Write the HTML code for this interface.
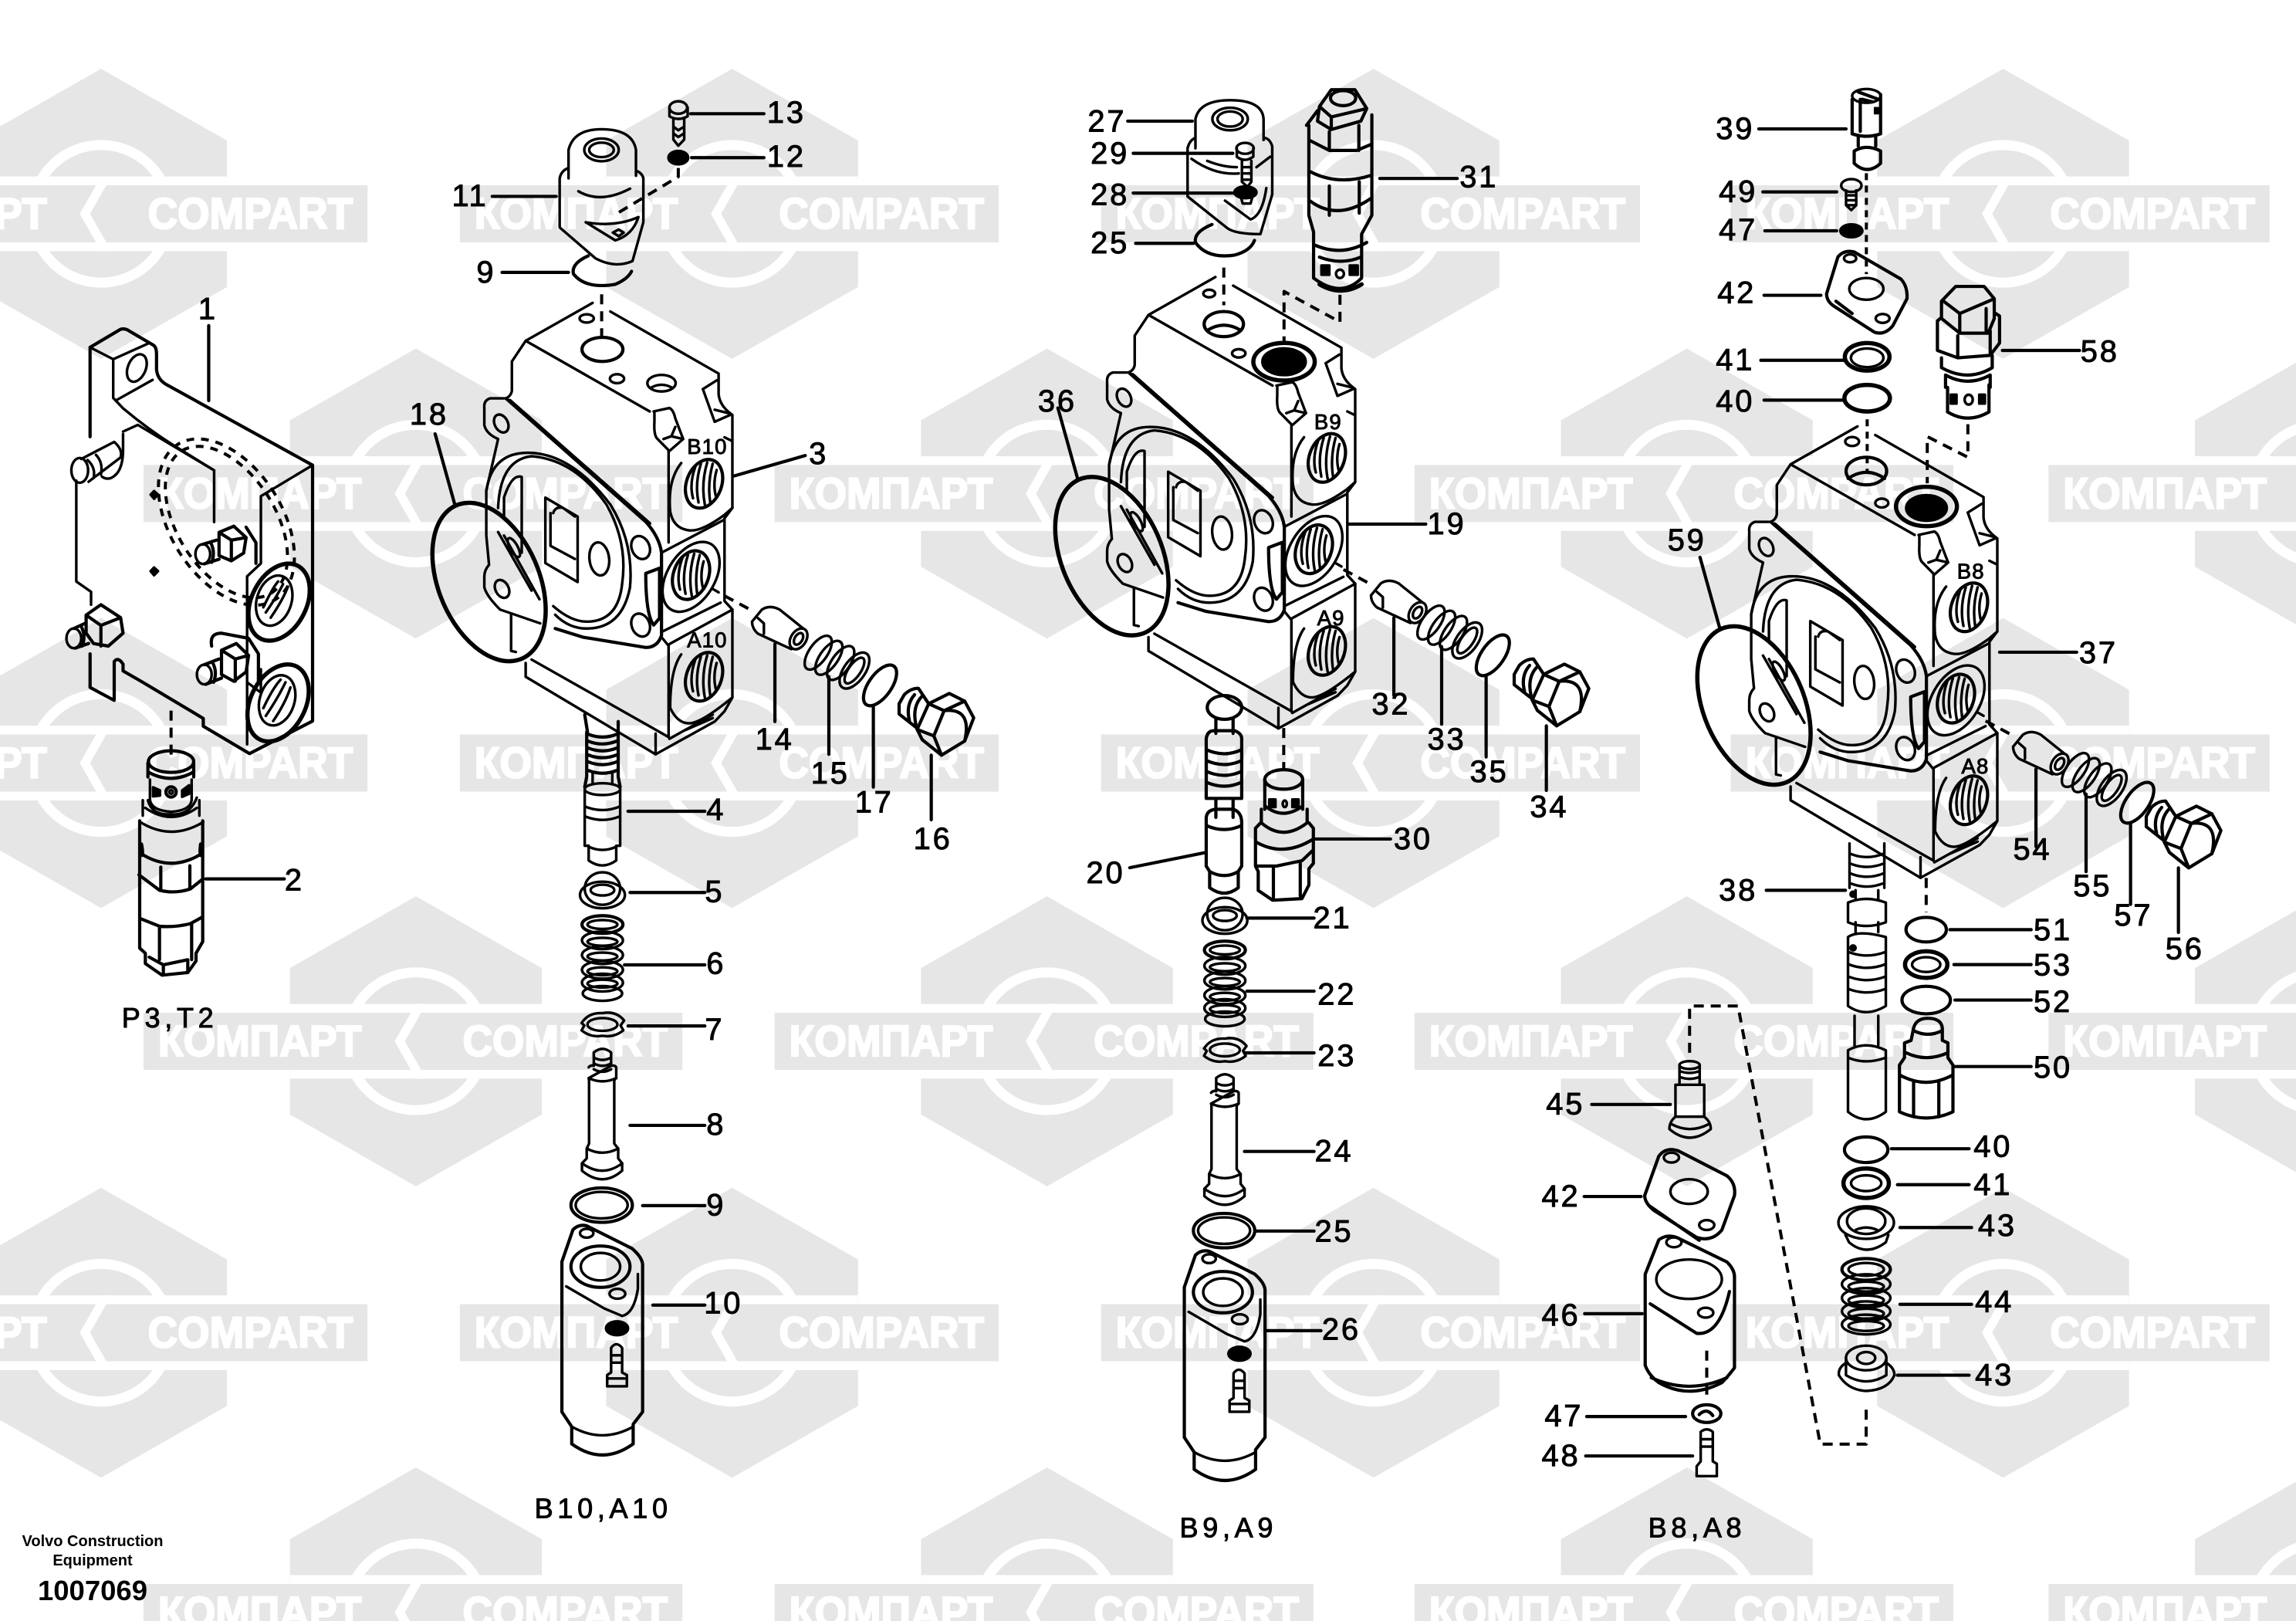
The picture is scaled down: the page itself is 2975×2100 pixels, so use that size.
<!DOCTYPE html>
<html><head><meta charset="utf-8"><title>Valve section exploded view</title>
<style>
html,body{margin:0;padding:0;background:#fff;width:2975px;height:2100px;overflow:hidden}
svg{display:block}
path,ellipse,circle,line{vector-effect:non-scaling-stroke}
.d{fill:none;stroke:#000;stroke-width:3.4;stroke-linejoin:round;stroke-linecap:round}
.t{stroke-width:5.5}
.b{stroke-width:4.2}
.das{stroke-dasharray:13 9;stroke-width:4;stroke-linecap:butt}
.k{fill:#000}
.lab text{font-family:"Liberation Sans",sans-serif;font-size:21px;letter-spacing:1.5px;text-anchor:middle;dominant-baseline:central;fill:#000;stroke:#000;stroke-width:.5}
.lab text.s{font-size:14.5px;letter-spacing:.6px}
.lab text.c{font-size:19px;letter-spacing:3px}
.wt{font-family:"Liberation Sans",sans-serif;font-weight:bold;font-size:30px;fill:#fff;stroke:#fff;stroke-width:1.2;dominant-baseline:central}
.v{font-family:"Liberation Sans",sans-serif;font-weight:bold;fill:#000;text-anchor:middle}
</style></head><body>
<svg xmlns="http://www.w3.org/2000/svg" width="2975" height="2100" viewBox="0 0 2975 2100">
<defs>
<g id="w">
<polygon points="0,-99 86,-50 86,50 0,99 -86,50 -86,-50" fill="#e6e6e6"/>
<circle r="47" fill="none" stroke="#fff" stroke-width="13"/>
<rect x="-86" y="-25.5" width="172" height="51" fill="#fff"/>
<rect x="-186" y="-19.5" width="368" height="39" fill="#e6e6e6"/>
<polygon points="0,-25.5 -14.5,0 0,25.5 7,25.5 -7.5,0 7,-25.5" fill="#fff"/>
<text class="wt" x="-176" textLength="139" lengthAdjust="spacingAndGlyphs">КОМПАРТ</text>
<text class="wt" x="32" textLength="140" lengthAdjust="spacingAndGlyphs">COMPART</text>
</g>
<g id="th">
<ellipse rx="45" ry="72" transform="rotate(15)" class="b"/>
<path d="M-22,-50Q-38,0 -28,42M-8,-58Q-24,0 -14,54M8,-62Q-8,0 2,60M22,-58Q8,0 16,56M32,-40Q22,0 30,36"/>
</g>
<g id="body">
<path d="M525,95L355,205L320,265V350Q318,365 305,372"/>
<path d="M570,120L845,300V360Q848,395 880,420V690L860,720V960L880,985V1240L860,1280L835,1310L685,1405L355,1180V1140"/>
<path d="M355,205L670,410M680,410L720,400Q730,405 735,430L755,490L720,525L690,490Q680,480 682,440V410"/>
<path d="M718,525V790M718,1090V1355"/>
<path d="M805,345L840,320M805,345L835,440L875,420M835,405L870,415M705,490L725,482L755,490M725,482L735,455M860,485L878,495"/>
<use href="#th" transform="translate(808,620)"/>
<path d="M750,560Q715,610 722,700Q730,750 770,755Q800,760 860,710L880,690"/>
<path d="M700,820L858,725M700,1050L850,965M700,820V1060"/>
<use href="#th" transform="translate(775,885)"/>
<ellipse cx="775" cy="890" rx="62" ry="108" transform="rotate(25 775 890)"/>
<path d="M830,925L845,935"/>
<path d="M700,1065L718,1090M720,1085L880,985"/>
<use href="#th" transform="translate(808,1180)"/>
<path d="M750,1115Q722,1160 722,1270Q740,1315 770,1315Q800,1315 880,1240"/>
<path d="M370,1130L718,1355M685,1345V1405M720,1360L830,1290M760,1335L830,1300"/>
<path d="M300,372H265Q248,378 250,400V450Q255,475 285,490L255,640V770L262,855Q250,870 250,890V920Q255,945 290,985L392,1025"/>
<path d="M305,372L660,730Q695,775 700,820V1060Q690,1095 660,1095L500,1065L430,1040" class="b"/>
<path d="M315,378L670,735" class="b"/>
<path d="M255,640Q270,530 360,530Q470,530 570,680Q630,790 620,920Q600,1040 510,1040Q465,1040 430,1000"/>
<path d="M285,690Q290,550 370,540Q480,550 560,680Q615,790 600,910Q590,1020 510,1020Q470,1020 425,975"/>
<path d="M300,720V660Q320,590 345,600V820M300,770L390,955M285,760L370,930"/>
<ellipse cx="325" cy="805" rx="10" ry="30" transform="rotate(-25 325 805)"/>
<ellipse cx="293" cy="445" rx="17" ry="27" transform="rotate(-20 293 445)"/>
<ellipse cx="295" cy="925" rx="17" ry="27" transform="rotate(-20 295 925)"/>
<ellipse cx="647" cy="805" rx="23" ry="34" transform="rotate(-15 647 805)"/>
<ellipse cx="647" cy="1030" rx="23" ry="34" transform="rotate(-15 647 1030)"/>
<ellipse cx="542" cy="838" rx="25" ry="48" transform="rotate(-5 542 838)"/>
<path d="M405,660V850L487,905V715ZM425,705Q430,685 450,690L480,715M418,705V800L480,838"/>
<path d="M660,880L695,865V1010L680,1030Q660,1000 660,880Z" class="b"/>
<path d="M318,1000V1105L330,1108"/>
<ellipse cx="262" cy="905" rx="130" ry="238" transform="rotate(-18 262 905)" class="t"/>
<path d="M125,475L175,680" class="b"/>
</g>
<g id="p14">
<path d="M930,1020L955,985Q975,970 1000,985L1060,1040M930,1020Q930,1040 945,1055L1030,1100M945,1010L960,1025V1055"/>
<ellipse cx="1048" cy="1070" rx="20" ry="32" transform="rotate(25 1048 1070)"/>
<ellipse cx="1048" cy="1070" rx="10" ry="18" transform="rotate(25 1048 1070)"/>
<path d="M860,945L925,985" class="das"/>
<path d="M988,1085V1310" class="b"/>
</g>
<g id="p15">
<ellipse cx="1098" cy="1110" rx="24" ry="55" transform="rotate(30 1098 1110)"/>
<ellipse cx="1125" cy="1125" rx="24" ry="55" transform="rotate(30 1125 1125)"/>
<ellipse cx="1155" cy="1140" rx="24" ry="55" transform="rotate(30 1155 1140)"/>
<ellipse cx="1190" cy="1162" rx="28" ry="58" transform="rotate(30 1190 1162)"/>
<ellipse cx="1190" cy="1162" rx="16" ry="42" transform="rotate(30 1190 1162)"/>
<path d="M1125,1180V1405" class="b"/>
</g>
<g id="p17">
<ellipse cx="1255" cy="1205" rx="30" ry="66" transform="rotate(30 1255 1205)" class="b"/>
<path d="M1238,1268V1500" class="b"/>
</g>
<g id="p16">
<path d="M160,185L240,145L300,175L335,240L300,330L210,385L135,325L115,285Z" class="b"/>
<path d="M160,185L220,212L300,175M220,212L180,310L210,385M115,285L180,310M220,212Q330,200 300,330" class="b"/>
<path d="M160,185L120,125Q90,125 65,150L45,185V225L115,280M105,150Q70,190 85,250M135,155Q95,195 110,265" class="b"/>
<path d="M170,385V636" class="b"/>
</g>
<g id="stk">
<ellipse cx="550" cy="250" rx="57" ry="27"/><ellipse cx="550" cy="237" rx="45" ry="33"/><ellipse cx="550" cy="240" rx="30" ry="11"/>
<ellipse cx="550" cy="310" rx="52" ry="18" class="b"/><ellipse cx="550" cy="310" rx="38" ry="9"/>
<ellipse cx="550" cy="342" rx="52" ry="18"/><ellipse cx="550" cy="372" rx="52" ry="18"/><ellipse cx="550" cy="402" rx="52" ry="18"/><ellipse cx="550" cy="428" rx="52" ry="18"/><ellipse cx="550" cy="450" rx="50" ry="15"/>
<ellipse cx="550" cy="345" rx="38" ry="8"/><ellipse cx="550" cy="375" rx="38" ry="8"/><ellipse cx="550" cy="405" rx="38" ry="8"/><ellipse cx="550" cy="430" rx="38" ry="8"/>
<path d="M497,510Q515,488 550,490Q585,485 605,505L596,515L603,525Q580,540 550,536Q520,540 497,525L504,515Z"/>
<ellipse cx="550" cy="513" rx="38" ry="13"/>
<path d="M528,570Q550,555 572,570V595M528,570V595M528,580Q550,590 572,580M528,592Q550,602 572,592M528,604Q550,614 572,604"/>
<path d="M515,600Q520,595 528,597M572,597Q582,595 585,600V622L580,626V755L590,765V785L600,795V810Q550,845 498,810V795L510,785V765L516,755V626L515,622Z"/>
<path d="M515,622Q550,635 585,622M510,765Q550,782 590,765M498,795Q550,825 600,795"/>
<ellipse cx="548" cy="880" rx="78" ry="35" class="b"/><ellipse cx="548" cy="880" rx="66" ry="27"/>
<path d="M447,995L475,930Q490,918 510,922L625,968Q650,985 652,1000V1300L628,1325V1365Q550,1410 472,1365V1330L447,1300Z" class="b"/>
<path d="M458,1045L555,1090L600,1105Q630,1100 640,1050V1020"/>
<ellipse cx="545" cy="1005" rx="75" ry="42" class="b"/><ellipse cx="545" cy="1005" rx="50" ry="28"/>
<ellipse cx="510" cy="937" rx="17" ry="9"/><ellipse cx="588" cy="1060" rx="20" ry="10"/>
<ellipse cx="587" cy="1130" rx="28" ry="14" class="k"/>
<path d="M572,1170V1220L562,1225V1248H612V1225L600,1220V1170Q585,1155 572,1170ZM572,1185H600M572,1200H600M562,1232H612"/>
<path d="M472,1330Q550,1365 628,1330"/>
</g>
</defs>

<g transform="scale(1.8973)">
<use href="#w" x="69" y="146"/><use href="#w" x="500" y="146"/><use href="#w" x="938" y="146"/><use href="#w" x="1368" y="146"/>
<use href="#w" x="284" y="337"/><use href="#w" x="715" y="337"/><use href="#w" x="1152" y="337"/><use href="#w" x="1585" y="337"/>
<use href="#w" x="69" y="521"/><use href="#w" x="500" y="521"/><use href="#w" x="938" y="521"/><use href="#w" x="1368" y="521"/>
<use href="#w" x="284" y="711"/><use href="#w" x="715" y="711"/><use href="#w" x="1152" y="711"/><use href="#w" x="1585" y="711"/>
<use href="#w" x="69" y="910"/><use href="#w" x="500" y="910"/><use href="#w" x="938" y="910"/><use href="#w" x="1368" y="910"/>
<use href="#w" x="284" y="1101"/><use href="#w" x="715" y="1101"/><use href="#w" x="1152" y="1101"/><use href="#w" x="1585" y="1101"/>
</g>

<g class="d">
<use href="#body" transform="translate(500,350) scale(.5102,.4464)"/>
<use href="#body" transform="translate(1307,316.5) scale(.5102,.4464)"/>
<use href="#body" transform="translate(2139,510) scale(.5102,.4464)"/>
<g transform="translate(500,350) scale(.5102,.4464)"><use href="#p14"/><use href="#p15"/><use href="#p17"/></g>
<g transform="translate(1302,316) scale(.5102,.4464)"><use href="#p14"/></g>
<g transform="translate(1294,311) scale(.5102,.4464)"><use href="#p15"/><use href="#p17"/></g>
<g transform="translate(2134,512) scale(.5102,.4464)"><use href="#p14"/></g>
<g transform="translate(2129,502) scale(.5102,.4464)"><use href="#p15"/><use href="#p17"/></g>
<use href="#p16" transform="translate(1150,850) scale(.3333)"/>
<use href="#p16" transform="translate(1947,812) scale(.3333)"/>
<use href="#p16" transform="translate(2766,996) scale(.3333)"/>
<use href="#stk" transform="translate(500,1000) scale(.5102,.6378)"/>
<use href="#stk" transform="translate(1306.5,1033) scale(.5102,.6378)"/>

<g transform="scale(.6378,.6696)">
<path d="M183,845V672L245,637Q255,635 262,640L312,668Q318,672 318,685V715Q320,735 340,745L635,900V1395L507,1458L413,1405V1390L290,1320L250,1298V1285Q240,1270 232,1280V1355L183,1330V1265" class="b"/>
<path d="M183,672L230,695L300,665M230,695V770L250,790Q300,830 350,860L435,910V1010M235,775L310,735"/>
<ellipse cx="278" cy="712" rx="18" ry="28" transform="rotate(25 278 712)"/>
<path d="M155,930V1125L185,1145V1170M250,835L280,822L435,910M250,840V870Q250,915 225,925Q215,928 207,922M635,900L530,960V1090L502,1115V1440M502,1320L530,1340V1295"/>
<ellipse cx="162" cy="910" rx="17" ry="24"/><path d="M165,888L232,855Q250,870 245,885L180,932M178,890Q195,905 190,925M195,880Q210,895 205,918"/>
<ellipse cx="460" cy="1010" rx="112" ry="180" transform="rotate(-35 460 1010)" class="das" style="stroke-dasharray:10 9"/>
<ellipse cx="460" cy="1010" rx="98" ry="165" transform="rotate(-35 460 1010)" class="das" style="stroke-dasharray:10 9"/>
<path d="M313,950l8,7-8,8-7-8zM313,1098l8,7-8,8-7-8z" class="k"/>
<ellipse cx="412" cy="1072" rx="15" ry="19"/><path d="M412,1053L440,1045M415,1091L445,1082M428,1050Q438,1068 430,1088M445,1030L475,1018L500,1040L495,1070L470,1085L445,1075ZM445,1030L470,1045L500,1040M470,1045V1085M500,1020L520,1050V1090" class="b"/>
<ellipse cx="415" cy="1305" rx="15" ry="19"/><path d="M415,1286L445,1275M418,1324L450,1312M432,1282Q442,1300 434,1320M450,1258L480,1245L505,1268L500,1300L475,1318L450,1305ZM450,1258L478,1275L505,1268M478,1275V1318M430,1250Q425,1225 450,1225L505,1235L525,1265V1320" class="b"/>
<ellipse cx="150" cy="1235" rx="15" ry="19"/><path d="M150,1216L175,1205M153,1254L180,1245M165,1212Q175,1230 167,1250M175,1190L205,1170L245,1195L250,1225L220,1250L190,1245L175,1225ZM175,1190L205,1210L245,1195M205,1210V1250" class="b"/>
<ellipse cx="567" cy="1165" rx="55" ry="80" transform="rotate(30 567 1165)" class="t"/>
<ellipse cx="565" cy="1360" rx="55" ry="80" transform="rotate(30 565 1360)" class="t"/>
<ellipse cx="557" cy="1162" rx="35" ry="50" transform="rotate(20 557 1162)"/>
<ellipse cx="563" cy="1355" rx="35" ry="50" transform="rotate(20 563 1355)"/>
<path d="M535,1175Q555,1135 565,1125M540,1185Q565,1150 575,1130M550,1195Q575,1160 585,1135M535,1370Q555,1330 570,1315M540,1385Q565,1350 580,1320M555,1395Q580,1360 590,1330"/>
<path d="M424,630V775" class="b"/>
<path d="M1155,290Q1165,250 1222,250Q1285,250 1292,290V340M1155,290V345M1137,345Q1140,330 1155,325M1137,345V440L1210,500Q1250,520 1285,505L1307,430V345Q1305,335 1292,330M1175,370Q1220,395 1280,365M1190,430L1250,465Q1285,455 1297,420M1190,430Q1250,440 1297,420"/>
<ellipse cx="1222" cy="290" rx="35" ry="22"/><ellipse cx="1222" cy="290" rx="25" ry="14"/>
<path d="M1245,450l12,-6 10,6 -10,7z"/>
<path d="M1000,380H1130" class="b"/>
<path d="M1378,325V342L1250,415" class="das"/>
<ellipse cx="1378" cy="208" rx="18" ry="12"/><path d="M1360,208V225Q1378,235 1397,225V208M1368,230V270L1378,282L1390,270V230M1368,245L1378,252L1390,245M1368,258L1378,265L1390,258"/>
<ellipse cx="1378" cy="305" rx="20" ry="13" class="k"/>
<path d="M1403,220H1552M1405,305H1552" class="b"/>
<path d="M1195,495Q1160,510 1165,530Q1190,560 1250,550Q1275,540 1283,525" class="b"/>
<path d="M1020,527H1155" class="b"/>
</g>

<g transform="translate(500,350) scale(.5102,.4464)">
<ellipse cx="510" cy="140" rx="18" ry="12"/><ellipse cx="550" cy="230" rx="52" ry="35" class="b"/><ellipse cx="587" cy="315" rx="18" ry="13"/>
<ellipse cx="700" cy="328" rx="36" ry="24"/><path d="M675,340Q700,325 725,340"/>
<path d="M548,70V215" class="das"/>
<path d="M885,597L1065,538" class="b"/>
<path d="M505,1290L512,1340M590,1310V1340M510,1340V1470M590,1340V1470M510,1345Q550,1365 590,1345M510,1365Q550,1385 590,1365M510,1385Q550,1405 590,1385M510,1405Q550,1425 590,1405M510,1425Q550,1445 590,1425M510,1450Q550,1470 590,1450M510,1470L505,1500M590,1470L595,1500" class="b"/>
</g>
<g transform="translate(500,1000) scale(.5102,.6378)">
<ellipse cx="550" cy="35" rx="45" ry="12"/>
<path d="M505,35V150H515V180Q550,200 585,180V150H595V35M505,70Q550,85 595,70M505,90Q550,105 595,90M515,152Q550,165 585,152M525,0V22M575,0V22"/>
<path d="M615,80H810M620,245H810M606,392H810M615,516H810M620,718H810M652,881H810M678,1083H810" class="b"/>
</g>
<g transform="translate(100,900) scale(.3333)">
<path d="M365,62V255" class="das"/>
<ellipse cx="365" cy="260" rx="88" ry="42" class="b"/>
<path d="M275,265V320M453,265V320M275,300Q365,350 453,300" class="b"/>
<path d="M283,330V410Q290,450 365,455Q440,450 445,410V330M275,410Q290,470 365,465Q440,470 465,400M255,410V470M475,410V470M265,440Q365,510 465,440M245,495Q365,570 490,495"/>
<circle cx="365" cy="378" r="20" class="b"/><circle cx="365" cy="378" r="7"/>
<path d="M295,360L322,372V392L295,395ZM408,372L435,352V385L408,397Z" class="k"/>
<path d="M243,490V985L265,1005V1045L330,1090L430,1080L462,1035V1005L488,960V490" class="b"/>
<path d="M252,620Q365,690 480,620M240,700L320,760Q380,775 440,755L490,715M245,870L320,900Q380,905 440,890L485,865M325,670V755M438,665V755M320,900V1030M445,890V1030M280,1020L335,1050V1080M335,1050L430,1030V1080M250,580Q258,620 252,625M480,580Q475,615 480,625" class="b"/>
<path d="M500,716H805" class="b"/>
</g>

<g transform="translate(1350,100) scale(.5102,.5421)">
<path d="M390,100Q400,55 478,55Q560,55 563,100V150M390,100V170M370,170Q375,150 390,145M370,170V285L470,360Q490,375 555,375L585,280V165Q578,145 563,145M380,195Q440,235 500,230M420,200Q460,215 495,215M545,215L580,190M465,295L530,340Q560,330 570,265"/>
<ellipse cx="478" cy="100" rx="45" ry="27"/><ellipse cx="478" cy="100" rx="32" ry="18"/>
<ellipse cx="516" cy="170" rx="22" ry="13"/><path d="M495,170V190Q515,205 537,190V170M508,200V250L522,262L532,250V200M508,215H532M508,230H532M508,245H532"/>
<ellipse cx="517" cy="275" rx="28" ry="14" class="k"/><path d="M505,285L510,302H530L535,285"/>
<path d="M218,105H382M232,182H485M232,277H485M238,397H385" class="b"/>
<path d="M432,352Q385,370 390,395Q420,435 490,425Q530,415 540,390" class="b"/>
<path d="M462,455V545" class="das"/>
<ellipse cx="765" cy="50" rx="32" ry="18" class="b"/>
<path d="M705,70L735,30L795,30L825,75L810,105L735,125L700,105ZM735,125V95M705,70L735,95L825,75" class="b"/>
<path d="M672,115L700,80M838,95V160L800,175L730,175L678,150V115M678,150V330L690,370V480Q760,530 812,480V375L838,330V90M680,225Q750,260 835,235M680,295Q750,345 835,290M730,260V330M806,250V325M730,130V175M805,115V175M690,400Q760,430 825,395M705,430Q760,450 810,430" class="b"/>
<path d="M710,450h20v22h-20zM782,450h20v22h-20z" class="k"/><circle cx="757" cy="470" r="10"/>
<path d="M705,495Q760,525 812,495" class="t"/>
<path d="M858,242H1055M780,1068H975" class="b"/>
<path d="M757,520V585L615,512V630" class="das"/>
<ellipse cx="425" cy="517" rx="15" ry="9"/><ellipse cx="462" cy="590" rx="50" ry="30" class="b"/><path d="M420,605Q462,580 505,605" class="b"/><ellipse cx="500" cy="660" rx="17" ry="10"/>
<ellipse cx="615" cy="680" rx="78" ry="45" class="t"/><ellipse cx="615" cy="680" rx="55" ry="32" class="k"/>
</g>

<g transform="translate(2150,100) scale(.5261,.6378)">
<ellipse cx="510" cy="38" rx="35" ry="14"/>
<path d="M475,45V115Q510,125 545,115V35M490,30L540,45M500,45L525,50M495,45V110M490,118V140M533,118V140M480,150Q510,135 545,150V175Q512,200 480,175Z" class="b"/>
<rect x="530" y="62" width="10" height="12" class="k"/>
<path d="M245,105H460M255,233H437M260,312H437M258,443H398M250,575H455M258,656H452M845,555H1035M838,1168H1028" class="b"/>
<path d="M510,195V400M512,695V800" class="das" style="stroke-dasharray:9 7"/>
<ellipse cx="473" cy="220" rx="25" ry="13"/><path d="M460,230V260L473,270L485,260V230M460,240H485M460,250H485M460,260H485"/>
<ellipse cx="473" cy="312" rx="27" ry="13" class="k"/>
<path d="M412,440L440,365Q455,350 480,355L595,410Q612,425 610,450L575,505Q555,525 530,518L430,465Q412,455 412,440ZM435,455L475,480" class="b"/>
<ellipse cx="470" cy="368" rx="15" ry="8"/><ellipse cx="550" cy="490" rx="17" ry="9"/><ellipse cx="510" cy="430" rx="42" ry="22"/>
<ellipse cx="512" cy="568" rx="55" ry="28" class="t"/><ellipse cx="512" cy="570" rx="40" ry="19"/>
<ellipse cx="512" cy="652" rx="56" ry="27" class="t"/>
<path d="M695,455L730,425L800,425L825,450V490L810,520L740,520L695,490ZM740,480L700,455M740,480L825,450M740,480V520M805,470V515M685,495V555L735,570L815,565L838,540V485L825,478M685,495L695,488M735,525V570M815,515V565M695,570V590Q760,620 820,590V565M705,605Q760,630 815,605M705,605V630M815,605V630M710,630V680Q760,705 812,680V625" class="b"/>
<path d="M718,645h14v18h-14zM788,645h14v18h-14z" class="k"/><circle cx="762" cy="655" r="10"/>
<path d="M760,705V772L660,730V825" class="das"/>
<ellipse cx="475" cy="740" rx="17" ry="9"/><ellipse cx="510" cy="800" rx="50" ry="28" class="b"/><path d="M465,815Q510,790 555,815" class="b"/><ellipse cx="548" cy="865" rx="16" ry="9"/>
<ellipse cx="658" cy="872" rx="75" ry="40" class="t"/><ellipse cx="658" cy="875" rx="50" ry="26" class="k"/>
</g>

<g transform="translate(1350,880) scale(.4464,.7015)">
<ellipse cx="530" cy="52" rx="50" ry="22" class="b"/>
<path d="M505,72V100M555,72V100M477,110Q480,95 500,95H560Q580,100 580,110V220H477ZM477,130Q530,145 580,130M477,150Q530,165 580,150M477,170Q530,185 580,170M477,190Q530,205 580,190M505,222V255M555,222V255M477,255Q480,240 510,240H555Q580,245 580,265V345L570,355V385Q530,405 487,385V355L477,345ZM477,270Q530,285 580,270M487,355Q530,370 570,355" class="b"/>
<path d="M255,348L475,320M595,441H790M595,576H790M590,690H790M588,872H790M622,1019H790M652,1203H810M788,295H1012" class="b"/>
<path d="M702,90V165" class="das"/>
<ellipse cx="702" cy="185" rx="55" ry="18" class="b"/>
<path d="M647,185V240M757,185V240M650,235Q700,260 755,235M637,240V265M770,240V265M637,265Q700,300 770,265M620,275V345L628,355V390L670,408L755,405L775,380V350L788,340V275L775,265M620,275L635,265M620,300Q700,330 788,295M620,345H680L755,335L788,315M672,345V408M750,340V400" class="b"/>
<path d="M660,222h18v14h-18zM727,222h18v14h-18z" class="k"/><circle cx="705" cy="230" r="6"/>
</g>

<g transform="translate(1950,1080) scale(.6537,.6378)">
<path d="M518,115H675M882,195H1043M890,266H1043M892,338H1043M890,473H1043M766,640H920M778,713H920M783,800H925M783,956H925M778,1100H920M172,550H328M157,737H270M158,975H272M162,1184H358M160,1264H372" class="b"/>
<path d="M683,20V110M752,20V110M683,40Q717,55 752,40M683,60Q717,75 752,60M683,80Q717,95 752,80M683,100Q717,115 752,100M680,140Q715,125 755,140V180Q715,195 680,180ZM695,115V135M740,115V135M695,180V200M740,180V200M680,210Q700,195 755,210V350Q715,375 680,350ZM680,240Q717,255 755,240M680,265Q717,280 755,265M680,290Q717,305 755,290M680,315Q717,330 755,315M693,370V430M740,370V430M680,440Q715,420 755,440V565Q715,595 680,565ZM680,455Q715,470 755,455"/>
<circle cx="690" cy="123" r="5" class="k"/><circle cx="690" cy="232" r="5" class="k"/>
<path d="M835,90V160" class="das"/>
<ellipse cx="835" cy="195" rx="40" ry="25" class="b"/>
<ellipse cx="835" cy="266" rx="42" ry="27" class="t"/><ellipse cx="835" cy="266" rx="28" ry="15"/>
<ellipse cx="835" cy="338" rx="48" ry="28" class="b"/>
<path d="M810,395Q815,375 838,375Q865,375 867,395V420L878,425V455L888,470V565Q835,590 782,565V470L792,455V425L805,420ZM795,445Q835,465 878,445M782,490Q835,520 888,490M810,505V575M860,505V575M810,400Q838,415 867,400" class="b"/>
<ellipse cx="716" cy="642" rx="43" ry="26" class="b"/>
<ellipse cx="716" cy="710" rx="45" ry="30" class="t"/><ellipse cx="716" cy="710" rx="30" ry="16"/>
<ellipse cx="716" cy="790" rx="55" ry="33"/><ellipse cx="716" cy="787" rx="38" ry="26"/><path d="M675,815L682,830Q716,860 755,830L760,815M695,805Q716,795 738,805"/>
<ellipse cx="716" cy="885" rx="48" ry="22" class="b"/><ellipse cx="716" cy="885" rx="35" ry="13"/>
<ellipse cx="716" cy="915" rx="48" ry="20"/><ellipse cx="716" cy="943" rx="48" ry="20"/><ellipse cx="716" cy="970" rx="48" ry="20"/><ellipse cx="716" cy="997" rx="48" ry="20"/>
<ellipse cx="716" cy="920" rx="35" ry="10"/><ellipse cx="716" cy="948" rx="35" ry="10"/><ellipse cx="716" cy="975" rx="35" ry="10"/><ellipse cx="716" cy="1000" rx="35" ry="10"/>
<ellipse cx="716" cy="1065" rx="40" ry="25"/><ellipse cx="716" cy="1065" rx="18" ry="12"/>
<path d="M676,1065V1100Q716,1125 756,1100V1065M676,1075Q660,1085 662,1100Q680,1130 716,1132Q760,1130 772,1100Q772,1085 756,1075"/>
<path d="M366,445V350H462L625,1240H716V1165" class="das"/>
<ellipse cx="366" cy="470" rx="20" ry="8"/>
<path d="M346,470V510M386,470V510M346,482Q366,490 386,482M346,494Q366,502 386,494M338,510H395V575H338ZM338,575Q326,585 326,600Q366,635 408,600Q408,585 395,575M330,590Q366,610 404,590"/>
<path d="M277,735L305,655Q320,635 345,645L440,695Q458,710 455,735L430,805Q410,830 380,820L295,765Q277,750 277,735ZM285,755L385,826" class="b"/>
<ellipse cx="330" cy="658" rx="15" ry="10"/><ellipse cx="400" cy="795" rx="15" ry="10"/><ellipse cx="365" cy="727" rx="37" ry="25"/>
<path d="M278,895L305,825Q325,810 350,825L440,870Q455,885 455,900V1085Q440,1105 430,1115Q365,1150 305,1115Q285,1100 278,1080ZM288,955L380,1015Q425,1020 445,930M290,1105Q365,1140 440,1105" class="b"/>
<ellipse cx="335" cy="830" rx="15" ry="10"/><ellipse cx="398" cy="973" rx="15" ry="10"/><ellipse cx="365" cy="905" rx="65" ry="40"/>
<path d="M400,1050V1150" class="das"/>
<ellipse cx="400" cy="1178" rx="28" ry="18" class="b"/><path d="M385,1180Q400,1165 412,1182" class="b"/>
<path d="M388,1215V1275L380,1285V1305H420V1280L412,1275V1215Q400,1205 388,1215ZM388,1230H412M388,1245H412"/>
</g>
</g>

<g class="lab" transform="scale(1.8973)">
<text x="537" y="77">13</text><text x="537" y="107">12</text><text x="321" y="134">11</text><text x="332" y="186">9</text><text x="293" y="283">18</text><text x="142" y="211">1</text><text x="559" y="310">3</text>
<text x="529" y="505">14</text><text x="567" y="528">15</text><text x="597" y="548">17</text><text x="637" y="573">16</text><text x="489" y="553">4</text><text x="488" y="609">5</text><text x="489" y="658">6</text><text x="488" y="703">7</text><text x="489" y="768">8</text><text x="489" y="823">9</text><text x="494" y="890">10</text><text x="201" y="601">2</text>
<text class="c" x="116" y="695">P3,T2</text><text class="c" x="412" y="1030">B10,A10</text>
<text x="756" y="83">27</text><text x="758" y="105">29</text><text x="758" y="133">28</text><text x="758" y="166">25</text><text x="1010" y="121">31</text><text x="722" y="274">36</text><text x="988" y="358">19</text><text x="950" y="481">32</text><text x="988" y="505">33</text><text x="1017" y="527">35</text><text x="1058" y="551">34</text><text x="965" y="573">30</text><text x="755" y="596">20</text><text x="910" y="627">21</text><text x="913" y="679">22</text><text x="913" y="721">23</text><text x="911" y="786">24</text><text x="911" y="841">25</text><text x="916" y="908">26</text>
<text class="c" x="839" y="1043">B9,A9</text>
<text x="1185" y="88">39</text><text x="1187" y="131">49</text><text x="1187" y="157">47</text><text x="1186" y="200">42</text><text x="1185" y="246">41</text><text x="1185" y="274">40</text><text x="1434" y="240">58</text><text x="1152" y="369">59</text><text x="1433" y="446">37</text><text x="1388" y="580">54</text><text x="1429" y="605">55</text><text x="1457" y="625">57</text><text x="1492" y="648">56</text><text x="1187" y="608">38</text><text x="1402" y="635">51</text><text x="1402" y="659">53</text><text x="1402" y="684">52</text><text x="1402" y="729">50</text><text x="1361" y="783">40</text><text x="1361" y="809">41</text><text x="1364" y="837">43</text><text x="1362" y="889">44</text><text x="1362" y="939">43</text><text x="1069" y="754">45</text><text x="1066" y="817">42</text><text x="1066" y="898">46</text><text x="1068" y="967">47</text><text x="1066" y="994">48</text>
<text class="c" x="1159" y="1043">B8,A8</text>
<text class="s" x="483" y="305">B10</text><text class="s" x="483" y="437">A10</text><text class="s" x="907" y="288">B9</text><text class="s" x="909" y="422">A9</text><text class="s" x="1346" y="390">B8</text><text class="s" x="1349" y="523">A8</text>
</g>
<text class="v" x="120" y="2003" font-size="20">Volvo Construction</text>
<text class="v" x="120" y="2028" font-size="20">Equipment</text>
<text class="v" x="120" y="2073" font-size="36.5">1007069</text>
</svg>
</body></html>
